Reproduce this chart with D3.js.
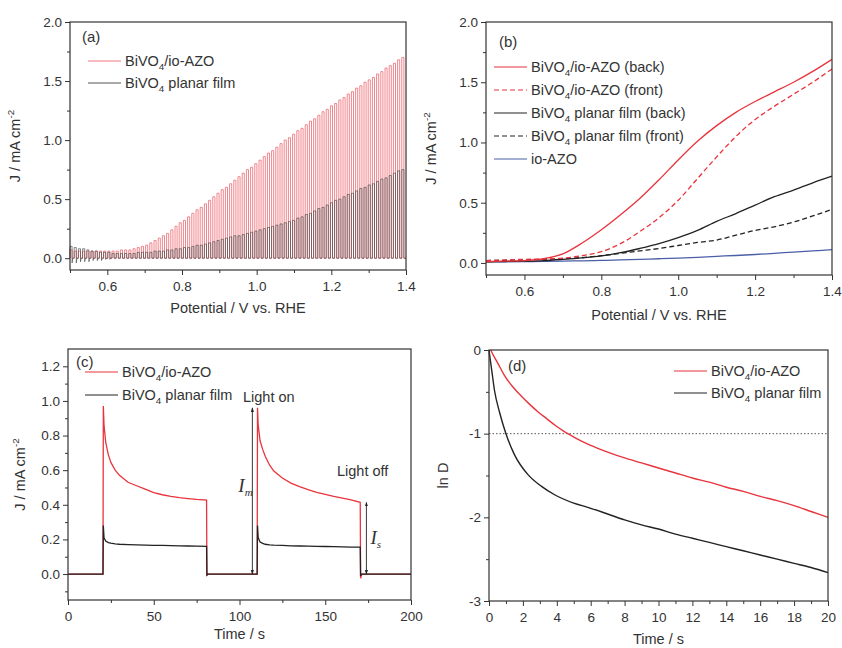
<!DOCTYPE html>
<html><head><meta charset="utf-8">
<script src="https://cdn.jsdelivr.net/npm/d3@7"></script>
<style>
body{margin:0;background:#fff}
svg{display:block}
text{font-family:"Liberation Sans",Arial,sans-serif;fill:#333}
</style>
</head><body>
<svg id="c" width="842" height="648"></svg>
<script>
// ---------------- DATA ----------------
// Panel (a): chopped-light LSV, one peak value per light-on cycle
const chopStartV = 0.5;
const chopPeriodV = 0.01125;
const chopPeakRed = [0.07,0.06,0.06,0.06,0.06,0.06,0.06,0.06,0.06,0.06,
  0.06,0.06,0.07,0.07,0.07,0.08,0.09,0.10,0.11,0.13,
  0.15,0.17,0.19,0.21,0.24,0.27,0.30,0.32,0.35,0.38,
  0.41,0.43,0.46,0.49,0.52,0.55,0.58,0.60,0.63,0.66,
  0.69,0.72,0.75,0.77,0.80,0.83,0.86,0.89,0.91,0.94,
  0.97,1.00,1.02,1.05,1.08,1.10,1.13,1.16,1.18,1.21,
  1.24,1.26,1.29,1.31,1.34,1.36,1.39,1.41,1.44,1.46,
  1.49,1.51,1.53,1.56,1.58,1.61,1.63,1.65,1.68,1.70];
const chopPeakBlack = [0.10,0.09,0.08,0.08,0.07,0.06,0.06,0.05,0.05,0.05,
  0.04,0.04,0.04,0.04,0.04,0.04,0.05,0.05,0.05,0.05,
  0.06,0.06,0.06,0.07,0.07,0.08,0.08,0.09,0.09,0.10,
  0.11,0.11,0.12,0.13,0.14,0.15,0.16,0.17,0.18,0.19,
  0.19,0.20,0.21,0.22,0.23,0.24,0.25,0.26,0.27,0.28,
  0.29,0.30,0.31,0.32,0.34,0.35,0.37,0.38,0.40,0.42,
  0.43,0.45,0.47,0.49,0.50,0.52,0.54,0.55,0.57,0.59,
  0.60,0.62,0.63,0.65,0.67,0.68,0.70,0.72,0.74,0.75];
const chopDipBlack = [-0.04,-0.04,-0.03,-0.03,-0.03,-0.02,-0.02,-0.02,-0.01,-0.01];

// Panel (b): LSV curves
const lsvV        = [0.50,0.55,0.60,0.65,0.70,0.75,0.80,0.85,0.90,0.95,1.00,1.05,1.10,1.15,1.20,1.25,1.30,1.35,1.40];
const lsvRedBack  = [0.010,0.015,0.020,0.035,0.075,0.165,0.275,0.40,0.535,0.69,0.855,1.01,1.14,1.25,1.34,1.42,1.50,1.59,1.69];
const lsvRedFront = [0.020,0.025,0.030,0.033,0.040,0.060,0.095,0.16,0.26,0.375,0.52,0.70,0.88,1.05,1.19,1.30,1.40,1.50,1.61];
const lsvBlkBack  = [0.010,0.012,0.015,0.020,0.030,0.042,0.058,0.085,0.12,0.16,0.21,0.27,0.345,0.41,0.48,0.55,0.605,0.665,0.72];
const lsvBlkFront = [0.020,0.022,0.025,0.030,0.035,0.045,0.060,0.080,0.10,0.12,0.145,0.17,0.19,0.23,0.27,0.30,0.34,0.39,0.445];
const lsvIoAZO    = [0.010,0.010,0.011,0.013,0.015,0.018,0.021,0.025,0.030,0.035,0.040,0.047,0.055,0.062,0.070,0.080,0.090,0.100,0.110];

// Panel (c): transient photocurrent
const tcTime  = [0,20.4,20.6,21.0,22.0,23.5,25,27.5,30,35,40,45,50,55,60,65,70,75,80.8,81.0,81.4,82,
  110.3,110.5,110.9,112,113.5,115,117.5,120,125,130,135,140,145,150,155,160,165,170.4,170.6,171.0,171.6,200];
const tcRed   = [0,0,0.97,0.86,0.76,0.69,0.645,0.60,0.57,0.53,0.51,0.49,0.47,0.458,0.448,0.441,0.436,0.431,0.427,-0.01,0,0,
  0,0.96,0.86,0.77,0.72,0.68,0.63,0.595,0.555,0.525,0.505,0.487,0.472,0.46,0.448,0.438,0.428,0.414,-0.025,-0.01,0,0];
const tcBlack = [0,0,0.28,0.21,0.19,0.182,0.178,0.174,0.172,0.17,0.168,0.167,0.166,0.165,0.164,0.163,0.162,0.161,0.16,-0.005,0,0,
  0,0.28,0.21,0.185,0.177,0.172,0.169,0.167,0.165,0.163,0.162,0.161,0.16,0.159,0.158,0.157,0.156,0.155,-0.01,0,0,0];
const tcImTime = 107.5, tcImValue = 0.96;
const tcIsTime = 174,   tcIsValue = 0.414;

// Panel (d): ln D vs time
const lnDTimeRed = [0.1,0.3,0.5,0.9,1.4,1.9,2.4,2.9,3.4,3.9,4.4,5,6,7,8,9,10,11,12,13,14,15,16,17,18,19,20];
const lnDRed     = [0,-0.08,-0.15,-0.30,-0.44,-0.55,-0.65,-0.74,-0.82,-0.90,-0.97,-1.04,-1.14,-1.22,-1.29,-1.35,-1.41,-1.47,-1.53,-1.58,-1.64,-1.69,-1.75,-1.80,-1.86,-1.93,-2.00];
const lnDTimeBlk = [0,0.05,0.14,0.33,0.63,1.0,1.5,2.3,3.1,3.87,5,5.83,7,8,9,10,11,12,13,14,15,16,17,18,19,20];
const lnDBlk     = [0,-0.08,-0.21,-0.49,-0.75,-1.0,-1.25,-1.49,-1.63,-1.73,-1.83,-1.88,-1.96,-2.03,-2.09,-2.14,-2.20,-2.25,-2.30,-2.35,-2.40,-2.45,-2.50,-2.55,-2.60,-2.66];
const lnDRef = -1;

// Tick values
const aXMajor = [0.6,0.8,1.0,1.2,1.4], aXMinor = [0.5,0.7,0.9,1.1,1.3];
const aYMajor = [0.0,0.5,1.0,1.5,2.0], aYMinor = [0.25,0.75,1.25,1.75];
const cXMajor = [0,50,100,150,200], cXMinor = [25,75,125,175];
const cYMajor = [0.0,0.2,0.4,0.6,0.8,1.0,1.2], cYMinor = [-0.1,0.1,0.3,0.5,0.7,0.9,1.1];
const dXMajor = [0,2,4,6,8,10,12,14,16,18,20], dXMinor = [1,3,5,7,9,11,13,15,17,19];
const dYMajor = [0,-1,-2,-3], dYMinor = [-0.5,-1.5,-2.5];

// ---------------- DRAWING ----------------
const RED = "#e8343c", RED_A = "#ef7880", BLK = "#222", BLUE = "#4a5fa8";
const TICK_FS = 13.5, LAB_FS = 14.5, LEG_FS = 14.5, TAG_FS = 15;
const svg = d3.select("#c");

const defs = svg.append("defs");
defs.append("marker").attr("id","ah").attr("viewBox","0 0 10 10").attr("refX",9).attr("refY",5)
  .attr("markerWidth",5).attr("markerHeight",6).attr("orient","auto-start-reverse")
  .append("path").attr("d","M0,1.5 L10,5 L0,8.5 Z").attr("fill","#222");

function rich(sel, parts, size) {
  parts.forEach(p => {
    const t = sel.append("tspan").text(p[0]);
    if (p[1] === "sub") t.attr("font-size", size*0.68).attr("dy", size*0.3);
    else if (p[1] === "sup") t.attr("font-size", size*0.68).attr("dy", -size*0.42);
    else if (p[1] === "back") t.attr("dy", -size*0.3);
  });
  return sel;
}
const bivoLabel = rest => [["BiVO"],["4","sub"],[rest,"back"]];

function panel(p) {
  const x = d3.scaleLinear().domain(p.xd).range([p.L, p.R]);
  const y = d3.scaleLinear().domain(p.yd).range([p.B, p.T]);
  const g = svg.append("g");
  const style = s => { s.select(".domain").remove(); s.selectAll("line").attr("stroke","#333");
    s.selectAll("text").attr("font-size",TICK_FS).attr("fill","#333").attr("font-family",'"Liberation Sans",Arial,sans-serif'); };
  g.append("g").attr("transform",`translate(0,${p.B})`)
    .call(d3.axisBottom(x).tickValues(p.xMinor).tickSize(3).tickFormat("")).call(style);
  g.append("g").attr("transform",`translate(${p.L},0)`)
    .call(d3.axisLeft(y).tickValues(p.yMinor).tickSize(3).tickFormat("")).call(style);
  g.append("g").attr("transform",`translate(0,${p.B})`)
    .call(d3.axisBottom(x).tickValues(p.xMajor).tickSize(5).tickPadding(6).tickFormat(p.xf)).call(style);
  g.append("g").attr("transform",`translate(${p.L},0)`)
    .call(d3.axisLeft(y).tickValues(p.yMajor).tickSize(5).tickPadding(3).tickFormat(p.yf)).call(style);
  const data = g.append("g");
  g.append("rect").attr("x",p.L).attr("y",p.T).attr("width",p.R-p.L).attr("height",p.B-p.T)
    .attr("fill","none").attr("stroke","#333").attr("stroke-width",1.2);
  g.append("text").attr("x",(p.L+p.R)/2).attr("y",p.xly).attr("text-anchor","middle").attr("font-size",LAB_FS).text(p.xl);
  const yl = g.append("text").attr("transform",`translate(${p.ylx},${(p.T+p.B)/2}) rotate(-90)`)
    .attr("text-anchor","middle").attr("font-size",LAB_FS);
  rich(yl, p.yl, LAB_FS);
  g.append("text").attr("x",p.tagX).attr("y",p.tagY).attr("font-size",TAG_FS).text(p.tag);
  return {x, y, g: data, top: g};
}

function legend(g, x, y, items) {
  items.forEach((it, i) => {
    const yy = y + i*it.dy;
    g.append("line").attr("x1",x).attr("x2",x+33).attr("y1",yy).attr("y2",yy)
      .attr("stroke",it.color).attr("stroke-width",it.w||1.2).attr("stroke-dasharray",it.dash||null);
    const t = g.append("text").attr("x",x+37).attr("y",yy+5).attr("font-size",LEG_FS).attr("fill",it.tcolor||it.color);
    rich(t, it.label, LEG_FS);
  });
}

const fmt1 = d3.format(".1f"), fmtI = d => String(d);
const yLabJ = [["J / mA cm"],["-2","sup"]];

// ---- Panel (a)
{
  const P = panel({L:70,R:406,T:22,B:270,xd:[0.5,1.4],yd:[-0.1,2.0],
    xMajor:aXMajor,xMinor:aXMinor,yMajor:aYMajor,yMinor:aYMinor,xf:fmt1,yf:fmt1,
    xl:"Potential / V vs. RHE",xly:313,yl:yLabJ,ylx:20,tag:"(a)",tagX:82,tagY:42});
  const line = d3.line().x(d=>P.x(d[0])).y(d=>P.y(d[1]));
  const build = (peaks, dips) => {
    const pts = [];
    peaks.forEach((pk,i) => {
      const v = chopStartV + i*chopPeriodV, h = v + chopPeriodV/2;
      pts.push([v,0],[v,pk],[h,pk]);
      if (dips && i < dips.length) pts.push([h,dips[i]],[h+chopPeriodV*0.15,0]);
      else pts.push([h,0]);
    });
    pts.push([1.4,0]);
    return pts;
  };
  P.g.append("path").attr("d",line(build(chopPeakRed))).attr("fill","none")
    .attr("stroke",RED_A).attr("stroke-width",0.9);
  P.g.append("path").attr("d",line(build(chopPeakBlack, chopDipBlack))).attr("fill","none")
    .attr("stroke","#444").attr("stroke-width",0.8).attr("stroke-opacity",0.8);
  legend(P.top, 88, 61, [
    {color:RED_A,tcolor:RED,w:1,label:bivoLabel("/io-AZO"),dy:22},
    {color:"#555",tcolor:"#222",w:1,label:[["BiVO"],["4","sub"],[" planar film","back"]],dy:22}]);
}

// ---- Panel (b)
{
  const P = panel({L:486,R:832,T:22,B:275,xd:[0.5,1.4],yd:[-0.1,2.0],
    xMajor:aXMajor,xMinor:aXMinor,yMajor:aYMajor,yMinor:aYMinor,xf:fmt1,yf:fmt1,
    xl:"Potential / V vs. RHE",xly:320,yl:yLabJ,ylx:436,tag:"(b)",tagX:499,tagY:47});
  const series = [
    {v:lsvIoAZO,c:BLUE,d:null},
    {v:lsvBlkFront,c:BLK,d:"5,3"},
    {v:lsvBlkBack,c:BLK,d:null},
    {v:lsvRedFront,c:RED,d:"5,3"},
    {v:lsvRedBack,c:RED,d:null}];
  series.forEach(s => {
    const line = d3.line().x((d,i)=>P.x(lsvV[i])).y(d=>P.y(d)).curve(d3.curveMonotoneX);
    P.g.append("path").attr("d",line(s.v)).attr("fill","none").attr("stroke",s.c)
      .attr("stroke-width",1.3).attr("stroke-dasharray",s.d);
  });
  legend(P.top, 494, 67, [
    {color:RED,label:bivoLabel("/io-AZO (back)"),dy:23},
    {color:RED,dash:"5,3",label:bivoLabel("/io-AZO (front)"),dy:23},
    {color:BLK,label:[["BiVO"],["4","sub"],[" planar film (back)","back"]],dy:23},
    {color:BLK,dash:"5,3",label:[["BiVO"],["4","sub"],[" planar film (front)","back"]],dy:23},
    {color:BLUE,label:[["io-AZO"]],dy:23}]);
}

// ---- Panel (c)
{
  const P = panel({L:68,R:411,T:349,B:600,xd:[0,200],yd:[-0.15,1.3],
    xMajor:cXMajor,xMinor:cXMinor,yMajor:cYMajor,yMinor:cYMinor,xf:fmtI,yf:fmt1,
    xl:"Time / s",xly:639,yl:yLabJ,ylx:25,tag:"(c)",tagX:76,tagY:367});
  const line = d3.line().x((d,i)=>P.x(tcTime[i])).y(d=>P.y(d));
  P.g.append("path").attr("d",line(tcRed)).attr("fill","none").attr("stroke",RED).attr("stroke-width",1.3);
  P.g.append("path").attr("d",line(tcBlack)).attr("fill","none").attr("stroke",BLK).attr("stroke-width",1.3);
  [[tcImTime,tcImValue],[tcIsTime,tcIsValue]].forEach(a => {
    P.g.append("line").attr("x1",P.x(a[0])).attr("x2",P.x(a[0])).attr("y1",P.y(0)).attr("y2",P.y(a[1]))
      .attr("stroke","#222").attr("stroke-width",0.9)
      .attr("marker-start","url(#ah)").attr("marker-end","url(#ah)");
  });
  const ital = (x,y,sub) => {
    const t = P.top.append("text").attr("x",x).attr("y",y)
      .attr("font-style","italic").attr("font-size",19).attr("fill","#222");
    t.append("tspan").text("I").style("font-family",'"Liberation Serif","Times New Roman",serif');
    t.append("tspan").text(sub).attr("font-size",11).attr("dy",4).style("font-family",'"Liberation Serif",serif');
  };
  ital(P.x(tcImTime)-14, P.y(0.5)+5, "m");
  ital(P.x(tcIsTime)+4, P.y(0.21)+6, "s");
  P.top.append("text").attr("x",243).attr("y",402).attr("font-size",LEG_FS).attr("fill","#222").text("Light on");
  P.top.append("text").attr("x",337).attr("y",476).attr("font-size",LEG_FS).attr("fill","#222").text("Light off");
  legend(P.top, 85, 372, [
    {color:RED,label:bivoLabel("/io-AZO"),dy:23},
    {color:BLK,tcolor:"#222",label:[["BiVO"],["4","sub"],[" planar film","back"]],dy:23}]);
}

// ---- Panel (d)
{
  const P = panel({L:489,R:828,T:350,B:601,xd:[0,20],yd:[-3,0],
    xMajor:dXMajor,xMinor:dXMinor,yMajor:dYMajor,yMinor:dYMinor,xf:fmtI,yf:fmtI,
    xl:"Time / s",xly:644,yl:[["ln D"]],ylx:448,tag:"(d)",tagX:508,tagY:371});
  P.g.append("line").attr("x1",P.x(0)).attr("x2",P.x(20)).attr("y1",P.y(lnDRef)).attr("y2",P.y(lnDRef))
    .attr("stroke","#444").attr("stroke-width",0.9).attr("stroke-dasharray","1.5,2");
  const lr = d3.line().x((d,i)=>P.x(lnDTimeRed[i])).y(d=>P.y(d)).curve(d3.curveMonotoneX);
  const lb = d3.line().x((d,i)=>P.x(lnDTimeBlk[i])).y(d=>P.y(d)).curve(d3.curveMonotoneX);
  P.g.append("path").attr("d",lr(lnDRed)).attr("fill","none").attr("stroke",RED).attr("stroke-width",1.4);
  P.g.append("path").attr("d",lb(lnDBlk)).attr("fill","none").attr("stroke",BLK).attr("stroke-width",1.4);
  legend(P.top, 674, 371, [
    {color:RED,label:bivoLabel("/io-AZO"),dy:22},
    {color:BLK,tcolor:"#222",label:[["BiVO"],["4","sub"],[" planar film","back"]],dy:22}]);
}
</script>
</body></html>
